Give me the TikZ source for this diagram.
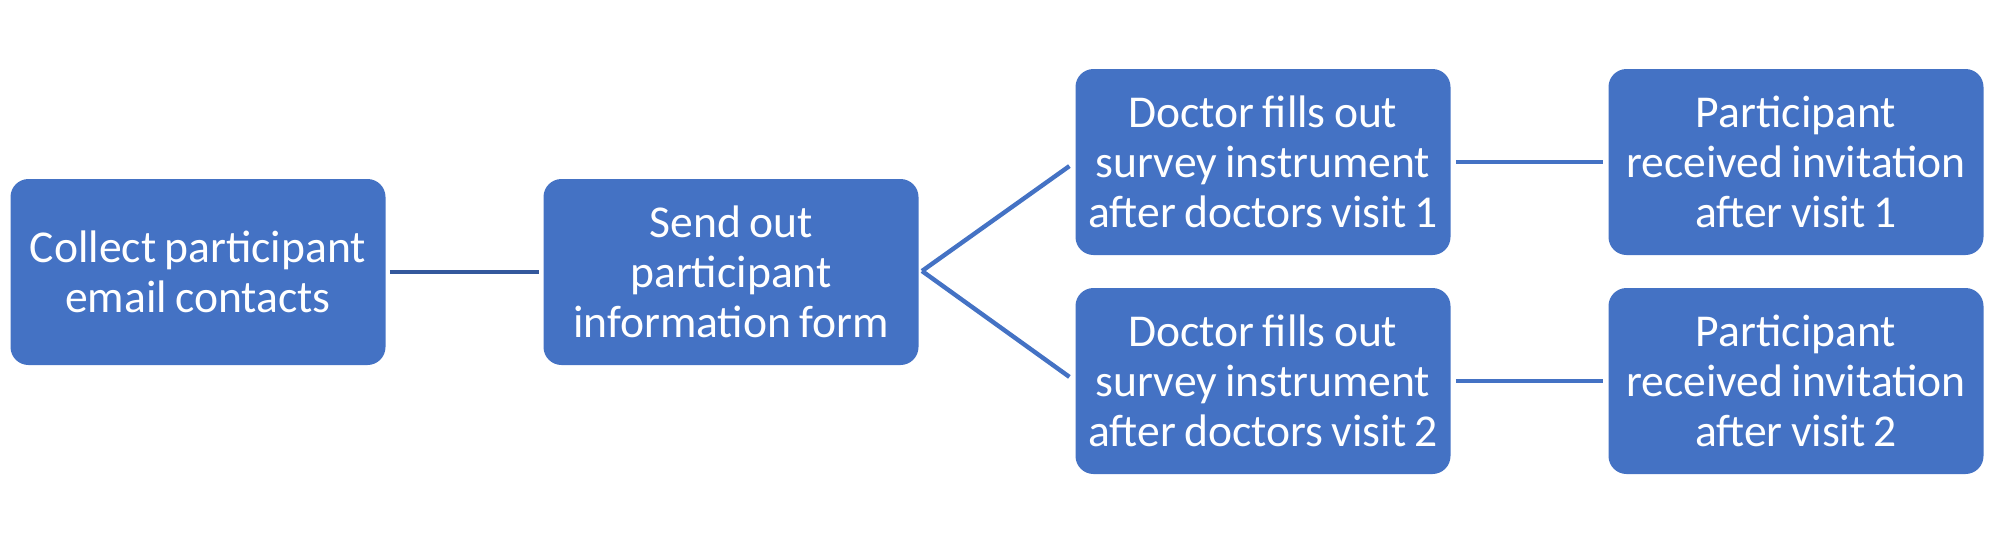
\documentclass[tikz,border=0pt]{standalone}
\usepackage{fontspec}
\setmainfont{Carlito}[WordSpace=0.8]
\usepackage{tikz}
\definecolor{boxblue}{RGB}{68,114,196}
\definecolor{linkblue}{RGB}{68,114,196}
\definecolor{linkdark}{RGB}{52,88,156}

\tikzset{
    flowbox/.style={draw=none, fill=boxblue, rounded corners=9pt, text=white,
        minimum width=187.5pt, minimum height=93pt, align=center,
        inner sep=0pt, font=\fontsize{22.8pt}{25pt}\selectfont},
    link/.style={draw=linkblue, line width=2.2pt}
}

\begin{document}
\begin{tikzpicture}[x=0.5pt, y=-0.5pt]
    \useasboundingbox (0,0) rectangle (2008,543);

    % first stage
    \node[flowbox] (collect) at (198,272) {Collect participant\\email contacts};
    \node[flowbox] (send) at (731,272) {Send out\\participant\\information form};

    \draw[link, draw=linkdark, shorten <=2pt, shorten >=2pt] (collect) -- (send);

    % doctor visits
    \node[flowbox] (doctor1) at (1263,162) {Doctor fills out\\survey instrument\\after doctors visit 1};
    \node[flowbox] (doctor2) at (1263,381) {Doctor fills out\\survey instrument\\after doctors visit 2};

    \coordinate (fork) at (922,271);
    \draw[link, shorten >=3.5pt] (fork) -- (doctor1.west);
    \draw[link, shorten >=3.5pt] (fork) -- (doctor2.west);

    % invitations
    \node[flowbox] (invite1) at (1796,162) {Participant\\received invitation\\after visit 1};
    \node[flowbox] (invite2) at (1796,381) {Participant\\received invitation\\after visit 2};

    \draw[link, shorten <=2.5pt, shorten >=2.5pt] (doctor1) -- (invite1);
    \draw[link, shorten <=2.5pt, shorten >=2.5pt] (doctor2) -- (invite2);
\end{tikzpicture}
\end{document}
